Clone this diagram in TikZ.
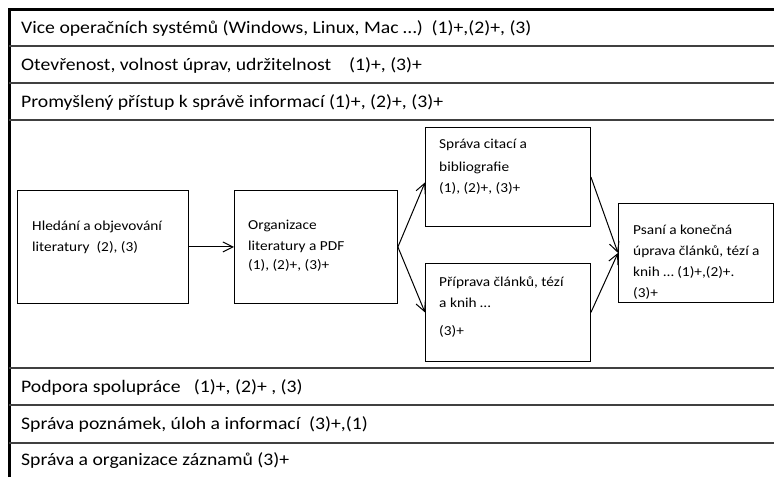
\documentclass[tikz,border=0pt]{standalone}
\usepackage{fontspec}
\setmainfont{Carlito}[FakeStretch=1.12]
\usetikzlibrary{arrows.meta, positioning}

\begin{document}
\begin{tikzpicture}[x=1pt, y=-1pt,
    box/.style={draw, line width=0.9pt, anchor=north west, inner sep=0pt},
    boxtext/.style={anchor=north west, align=left, inner sep=0pt,
        font=\fontsize{13.7}{21}\selectfont},
    rowtext/.style={anchor=west, inner sep=0pt, font=\fontsize{17.6}{20}\selectfont},
    rowline/.style={line width=1.3pt, black!75},
    flow/.style={-{Straight Barb[length=10pt, width=10pt]}, line width=1pt}]
    \useasboundingbox (0,0) rectangle (774,477);

    % Frame of the table
    \draw[line width=3pt] (9,477) -- (9,9.5) -- (774,9.5);

    % Lines between the rows
    \foreach \y in {46,83,120,368,405,443}
        \draw[rowline] (9,\y) -- (774,\y);

    % Rows
    \node[rowtext] (R1) at (21,28) {Vice operačních systémů (Windows, Linux, Mac …)\ \ (1)+,(2)+, (3)};
    \node[rowtext] (R2) at (21,65) {Otevřenost, volnost úprav, udržitelnost\ \ \ \ (1)+, (3)+};
    \node[rowtext] (R3) at (21,102) {Promyšlený přístup k správě informací (1)+, (2)+, (3)+};
    \node[rowtext] (R4) at (21,387) {Podpora spolupráce\ \ \ (1)+, (2)+ , (3)};
    \node[rowtext] (R5) at (21,424) {Správa poznámek, úloh a informací\ \ (3)+,(1)};
    \node[rowtext] (R6) at (21,461) {Správa a organizace záznamů (3)+};

    % Boxes of the workflow
    \node[box, minimum width=171pt, minimum height=113pt] (A) at (17,190) {};
    \node[box, minimum width=163pt, minimum height=113pt] (B) at (234,190) {};
    \node[box, minimum width=165pt, minimum height=99pt] (C) at (425,127) {};
    \node[box, minimum width=165pt, minimum height=98pt] (D) at (425,263) {};
    \node[box, minimum width=155pt, minimum height=99pt] (E) at (618,203) {};

    % Texts in the boxes
    \node[boxtext] (tA) at (32,221) {Hledání a objevování\\literatury\ \ (2), (3)};
    \node[boxtext] (tB) at (248,220) {Organizace\\literatury a PDF\\[-2pt] (1), (2)+, (3)+};
    \node[boxtext] (tC) at (439,139) {Správa citací a\\[2pt]bibliografie\\ (1), (2)+, (3)+};
    \node[boxtext] (tD) at (439,277) {Příprava článků, tézí\\a knih …\\[7pt](3)+};
    \node[boxtext] (tE) at (633,225) {Psaní a konečná\\úprava článků, tézí a\\knih … (1)+,(2)+.\\(3)+};

    % Arrows
    \draw[flow] (A.east) -- (B.west);
    \draw[flow] (B.east) -- ([yshift=-5.5pt]C.west);
    \draw[flow] (B.east) -- (D.west);
    \draw[flow] (C.east) -- (E.west);
    \draw[flow] (D.east) -- (E.west);

\end{tikzpicture}
\end{document}
